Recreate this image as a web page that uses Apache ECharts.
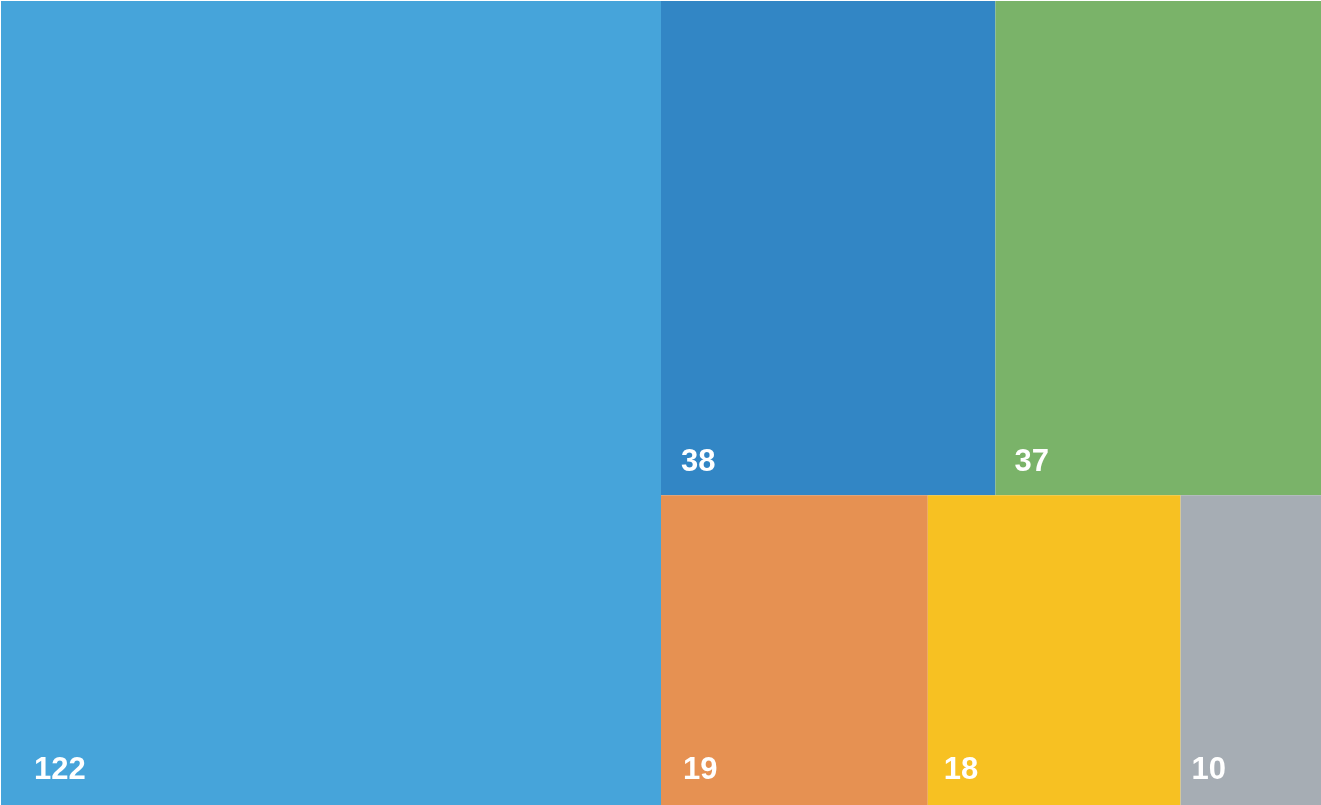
<!DOCTYPE html>
<html>
<head>
<meta charset="utf-8">
<script src="https://cdn.jsdelivr.net/npm/echarts@6/dist/echarts.min.js"></script>
<style>
html,body{margin:0;padding:0;background:#ffffff;}
#chart{width:1321px;height:805px;}
</style>
</head>
<body>
<div id="chart"></div>
<script>
const categories = ['A', 'B', 'C', 'D', 'E', 'F'];
const values = [122, 38, 37, 19, 18, 10];
const colors = ['#46A4DA', '#3286C5', '#7AB369', '#E69152', '#F7C122', '#A6ADB4'];
// label left insets (style only)
const labelInsetLeft = [33, 20, 19, 22, 16, 11];
const labelInsetBottom = [19, 17, 17, 19, 19, 19];

const chart = echarts.init(document.getElementById('chart'));
const data = categories.map((c, i) => ({
  name: c,
  value: values[i],
  itemStyle: { color: colors[i] },
  label: { padding: [0, 0, labelInsetBottom[i], labelInsetLeft[i]] }
}));

chart.setOption({
  animation: false,
  series: [{
    type: 'treemap',
    left: 1, top: 1, right: 0, bottom: 0,
    roam: false,
    nodeClick: false,
    breadcrumb: { show: false },
    squareRatio: 1,
    itemStyle: { borderWidth: 0, gapWidth: 0, borderColor: 'transparent' },
    levels: [{ itemStyle: { borderWidth: 0, gapWidth: 0 } }],
    label: {
      show: true,
      position: 'insideBottomLeft',
      distance: 0,
      formatter: p => String(p.value),
      color: '#ffffff',
      fontFamily: 'Liberation Sans, Arial, sans-serif',
      fontWeight: 'bold',
      fontSize: 31
    },
    data: data
  }]
});
</script>
</body>
</html>
